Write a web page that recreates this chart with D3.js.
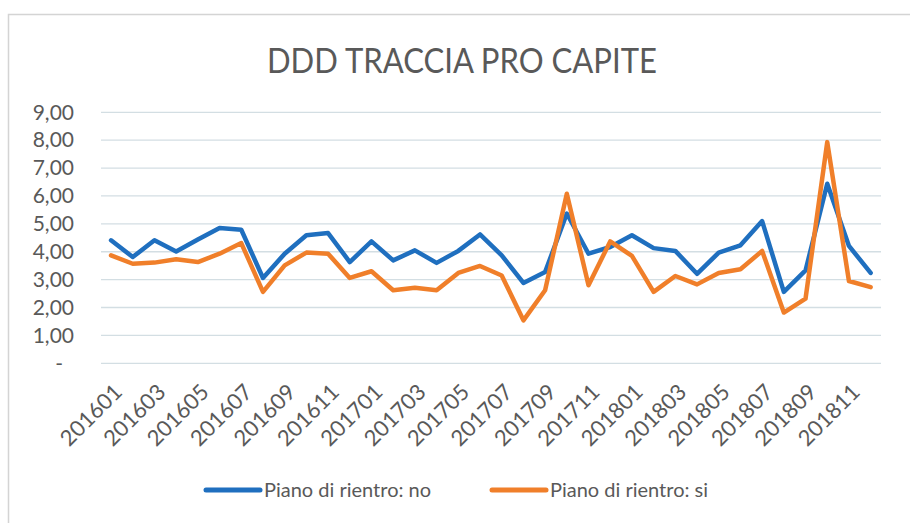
<!DOCTYPE html>
<html><head><meta charset="utf-8">
<script src="https://cdn.jsdelivr.net/npm/d3@7"></script>
<style>
html,body{margin:0;padding:0;background:#fff;}
text{font-family:Lato,"Open Sans",sans-serif;fill:#595959;}
</style></head>
<body><svg id="c" width="910" height="523"></svg>
<script>
const categories = ["201601","201602","201603","201604","201605","201606","201607","201608","201609","201610","201611","201612",
"201701","201702","201703","201704","201705","201706","201707","201708","201709","201710","201711","201712",
"201801","201802","201803","201804","201805","201806","201807","201808","201809","201810","201811","201812"];
const seriesNo = [4.41,3.81,4.41,4.01,4.44,4.85,4.79,3.06,3.93,4.59,4.67,3.63,
4.37,3.69,4.05,3.60,4.03,4.62,3.87,2.88,3.27,5.37,3.93,4.17,
4.59,4.13,4.03,3.21,3.97,4.23,5.10,2.56,3.33,6.44,4.21,3.24];
const seriesSi = [3.87,3.57,3.61,3.73,3.63,3.93,4.31,2.56,3.51,3.97,3.93,3.06,
3.30,2.62,2.71,2.62,3.24,3.49,3.15,1.54,2.62,6.08,2.80,4.37,
3.85,2.56,3.13,2.83,3.24,3.37,4.03,1.82,2.32,7.93,2.95,2.73];
const yTicks = [0,1,2,3,4,5,6,7,8,9];
const seriesNames = ["Piano di rientro: no","Piano di rientro: si"];
const colors = ["#1f6fbf","#f07f2a"];

const svg = d3.select("#c");
// chart border
svg.append("rect").attr("x",8.5).attr("y",14.5).attr("width",1000).attr("height",600)
  .attr("fill","#fff").attr("stroke","#d4d4d4").attr("stroke-width",1.5);

const x = d3.scalePoint().domain(categories).range([100.2,881.5]).padding(0.5);
const y = d3.scaleLinear().domain([0,9]).range([363.3,112.3]);

// gridlines
svg.append("g").selectAll("line").data(yTicks).join("line")
  .attr("x1",101).attr("x2",881).attr("y1",d=>y(d)).attr("y2",d=>y(d))
  .attr("stroke","#d3dee3").attr("stroke-width",1.3);

// y axis labels
const yAxis = d3.axisLeft(y).tickValues(yTicks).tickSize(0).tickPadding(0)
  .tickFormat(d => d===0 ? "-" : d3.format(".2f")(d).replace(".",","));
const gy = svg.append("g").attr("transform","translate(74,0)").call(yAxis);
gy.select(".domain").remove();
gy.selectAll("text").style("font-size","21px").attr("fill","#595959")
  .attr("font-family","Lato").attr("dx", d => d===0 ? -11 : 0);

// x axis labels
const xAxis = d3.axisBottom(x).tickValues(categories.filter((c,i)=>i%2===0)).tickSize(0).tickPadding(0);
const gx = svg.append("g").call(xAxis);
gx.select(".domain").remove();
gx.selectAll(".tick").attr("transform", d => `translate(${x(d)+7},388)`);
gx.selectAll("text").attr("transform","rotate(-45)").attr("text-anchor","end")
  .attr("x",0).attr("y",0).attr("dy","0.35em")
  .style("font-size","22px").attr("fill","#595959").attr("font-family","Lato");

// lines
const line = d3.line().x((d,i)=>x(categories[i])).y(d=>y(d));
[seriesNo, seriesSi].forEach((s,k)=>{
  svg.append("path").datum(s).attr("d",line).attr("fill","none")
    .attr("stroke",colors[k]).attr("stroke-width",4.5).attr("stroke-linejoin","round").attr("stroke-linecap","round");
});

// title
svg.append("text").attr("x",462).attr("y",73).attr("text-anchor","middle")
  .attr("textLength",390).attr("lengthAdjust","spacingAndGlyphs")
  .style("font-size","34px").text("DDD TRACCIA PRO CAPITE");

// legend
const legX = [206, 492];
seriesNames.forEach((n,k)=>{
  const g = svg.append("g");
  g.append("line").attr("x1",legX[k]).attr("x2",legX[k]+54).attr("y1",490).attr("y2",490)
    .attr("stroke",colors[k]).attr("stroke-width",5).attr("stroke-linecap","round");
  g.append("text").attr("x",legX[k]+58).attr("y",490).attr("dy","0.35em")
    .style("font-size","20px").text(n);
});
</script></body></html>
